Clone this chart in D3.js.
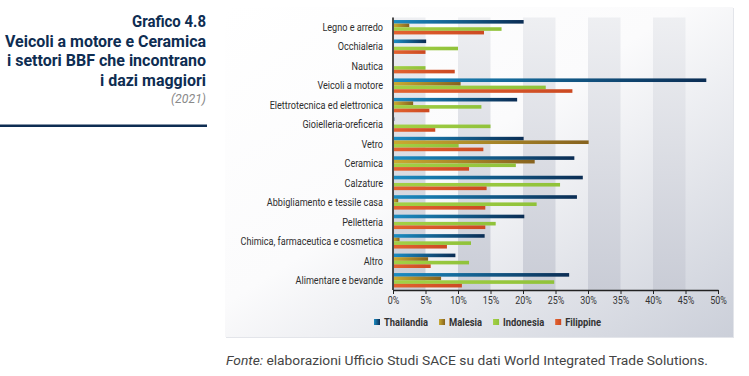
<!DOCTYPE html>
<html><head><meta charset="utf-8">
<script src="https://cdn.jsdelivr.net/npm/d3@7"></script>
<style>
html,body{margin:0;padding:0;background:#fff;}
text{font-family:Roboto,"Noto Sans",sans-serif;}
</style></head>
<body><svg id="c" width="749" height="376"></svg>
<script>
const categories = ["Legno e arredo","Occhialeria","Nautica","Veicoli a motore","Elettrotecnica ed elettronica","Gioielleria-oreficeria","Vetro","Ceramica","Calzature","Abbigliamento e tessile casa","Pelletteria","Chimica, farmaceutica e cosmetica","Altro","Alimentare e bevande"];
const seriesNames = ["Thailandia","Malesia","Indonesia","Filippine"];
const thailandia = [20.1, 5.1, 0, 48.2, 19.1, 0.2, 20.1, 27.9, 29.2, 28.3, 20.2, 14.1, 9.6, 27.1];
const malesia    = [2.5, 0, 0, 10.4, 3.1, 0, 30.1, 21.8, 0, 0.8, 0, 1.0, 5.4, 7.4];
const indonesia  = [16.7, 10.0, 5.0, 23.5, 13.6, 15.0, 10.1, 18.9, 25.7, 22.1, 15.8, 12.0, 11.7, 24.8];
const filippine  = [14.0, 5.0, 9.5, 27.6, 5.6, 6.5, 13.9, 11.7, 14.4, 14.2, 14.2, 8.3, 5.8, 10.6];
const xTicks = [0,5,10,15,20,25,30,35,40,45,50];
const titleLines = ["Grafico 4.8","Veicoli a motore e Ceramica","i settori BBF che incontrano","i dazi maggiori"];
const subtitle = "(2021)";

const values = [thailandia, malesia, indonesia, filippine];
const svg = d3.select("#c");
const defs = svg.append("defs");

function lin(id, stops, x2, y2){
  const g = defs.append("linearGradient").attr("id", id).attr("x1",0).attr("y1",0).attr("x2",x2).attr("y2",y2);
  stops.forEach(s => g.append("stop").attr("offset", s[0]).attr("stop-color", s[1]));
}
lin("panelG", [[0,"#ffffff"],[0.45,"#fbfbfc"],[1,"#cbcfd9"]], 1, 1);
lin("bandG", [[0,"#eeeff2"],[1,"#c9ccd6"]], 0, 1);
const serGrad = [
  [[0,"#1b8cc2"],[1,"#0b2d54"]],
  [[0,"#c9aa30"],[1,"#86621f"]],
  [[0,"#a3d045"],[1,"#90c23a"]],
  [[0,"#e2622f"],[1,"#cc4a22"]]
];
serGrad.forEach((s,i)=>lin("s"+i, s, 1, 0));

// panel
svg.append("rect").attr("x",226).attr("y",8).attr("width",508).attr("height",330).attr("fill","#e3e5ea");
svg.append("rect").attr("x",225).attr("y",7).attr("width",508).attr("height",330).attr("fill","url(#panelG)");

const x = d3.scaleLinear().domain([0,50]).range([393,718]);
const y = d3.scaleBand().domain(categories).range([17.5,290]).paddingInner(0.26).paddingOuter(0.13);
const ySub = d3.scaleBand().domain(seriesNames).range([0,y.bandwidth()]);

// bands
svg.append("g").selectAll("rect").data([0,10,20,30,40]).join("rect")
  .attr("x", d=>x(d)).attr("width", d=>x(d+5)-x(d))
  .attr("y",17.5).attr("height",290-17.5).attr("fill","url(#bandG)");

// bars
const gBars = svg.append("g");
seriesNames.forEach((s,si)=>{
  gBars.append("g").selectAll("rect").data(categories.map((c,ci)=>({c, v: values[si][ci]})).filter(d=>d.v>0)).join("rect")
    .attr("x", x(0)+1).attr("y", d=>y(d.c)+ySub(s))
    .attr("width", d=>Math.max(0, x(d.v)-x(0)-1)).attr("height", ySub.bandwidth())
    .attr("fill","url(#s"+si+")");
});

// axes
svg.append("line").attr("x1",x(0)).attr("x2",x(0)).attr("y1",17.5).attr("y2",290).attr("stroke","#222").attr("stroke-width",1.6);
const xAxis = svg.append("g").attr("transform","translate(0,290)")
  .call(d3.axisBottom(x).tickValues(xTicks).tickFormat(d=>d+"%").tickSize(4).tickSizeOuter(0));
xAxis.select(".domain").attr("stroke","#222").attr("stroke-width",1.4);
xAxis.selectAll(".tick line").attr("stroke","#222");
xAxis.selectAll(".tick text").attr("font-family","Roboto").attr("font-size",11).attr("fill","#333").attr("dy","0.9em").attr("y",4);

// category labels
const labs = svg.append("g").selectAll("text").data(categories).join("text")
  .attr("x",383).attr("y", d=>y(d)+y.bandwidth()/2+3.8)
  .attr("text-anchor","end").attr("font-size",11.2).attr("fill","#2e2e2e").text(d=>d);
let ref = labs.filter(d=>d==="Legno e arredo").node().getComputedTextLength();
const f = 60.6/ref;
function condense(sel, fac){ sel.each(function(){ const w=this.getComputedTextLength(); d3.select(this).attr("textLength", w*fac).attr("lengthAdjust","spacingAndGlyphs"); }); }
condense(labs, f);
condense(xAxis.selectAll(".tick text"), f);

// legend
const leg = svg.append("g");
let lx = 374;
seriesNames.forEach((s,i)=>{
  leg.append("rect").attr("x",lx).attr("y",319).attr("width",6).attr("height",6).attr("fill","url(#s"+i+")");
  const t = leg.append("text").attr("x",lx+10).attr("y",326).attr("font-size",11.5).attr("font-weight","bold").attr("fill","#333").text(s);
  const w = t.node().getComputedTextLength()*f;
  t.attr("textLength",w).attr("lengthAdjust","spacingAndGlyphs");
  lx += 10 + w + 11;
});

// title
const titleW = [74,201,199,106];
const tg = svg.append("g");
titleLines.forEach((t,i)=>{
  tg.append("text").attr("x",206).attr("y",27+i*19.5).attr("text-anchor","end")
    .attr("font-size",17).attr("font-weight","bold").attr("fill","#0e2d52")
    .attr("textLength",titleW[i]).attr("lengthAdjust","spacingAndGlyphs").text(t);
});
tg.append("text").attr("x",206).attr("y",103).attr("text-anchor","end").attr("font-size",13)
  .attr("font-style","italic").attr("fill","#8a8a8a").attr("textLength",35).attr("lengthAdjust","spacingAndGlyphs").text(subtitle);
svg.append("rect").attr("x",0).attr("y",124.5).attr("width",207).attr("height",2.5).attr("fill","#0e2d52");

// footer
const ft = svg.append("text").attr("x",226).attr("y",365).attr("font-size",12).attr("fill","#444");
ft.append("tspan").attr("font-style","italic").text("Fonte:");
ft.append("tspan").text(" elaborazioni Ufficio Studi SACE su dati World Integrated Trade Solutions.");
ft.attr("textLength",482).attr("lengthAdjust","spacingAndGlyphs");
</script></body></html>
